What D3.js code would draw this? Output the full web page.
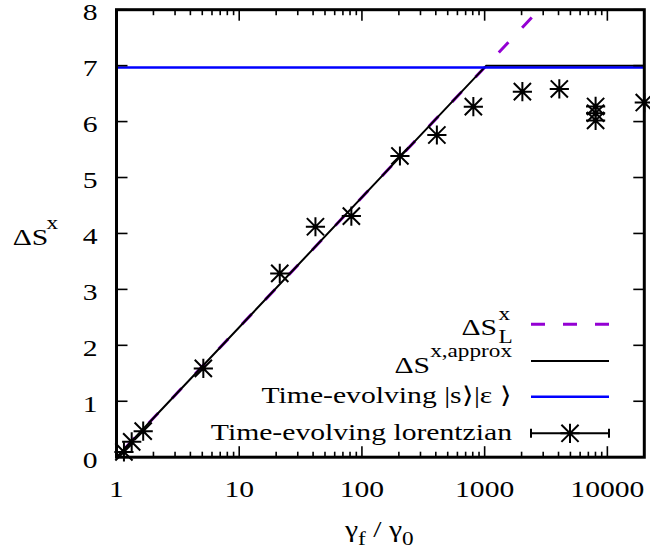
<!DOCTYPE html>
<html>
<head>
<meta charset="utf-8">
<script src="https://cdn.jsdelivr.net/npm/d3@7"></script>
<style>
  html, body { margin: 0; padding: 0; background: #fff; }
  svg { display: block; }
  text { font-family: "Liberation Serif", "Times New Roman", serif; fill: #000; }
</style>
</head>
<body>
<svg id="chart" width="650" height="554"></svg>
<script>
// ---- data ----
const xTickValues = [1, 10, 100, 1000, 10000];
const xTickLabels = ["1", "10", "100", "1000", "10000"];
const yTickValues = [0, 1, 2, 3, 4, 5, 6, 7, 8];
const yTickLabels = ["0", "1", "2", "3", "4", "5", "6", "7", "8"];

// ΔS_L^x (dashed purple)
const dsLX = [1, 2420];
const dsLY = [0, 7.86];
// ΔS^{x,approx} (black)
const approxX = [1, 1030, 20000];
const approxY = [0, 7.0, 7.0];
// Time-evolving |s>|ε> (blue)
const blueX = [1, 20000];
const blueY = [6.965, 6.965];
// Time-evolving lorentzian (asterisks)
const lorX = [1.15, 1.33, 1.65, 5.1, 21.4, 41.8, 82, 204, 408, 809, 2030, 4060, 8020, 8020, 8020, 20000];
const lorY = [0.095, 0.274, 0.466, 1.587, 3.286, 4.12, 4.31, 5.385, 5.76, 6.267, 6.535, 6.583, 6.27, 6.15, 6.02, 6.34];

// ---- layout ----
const svg = d3.select("#chart");
const L = 116.5, R = 644.3, T = 9.7, B = 457.2;
const x = d3.scaleLog().domain([1, 20000]).range([L, R]);
const y = d3.scaleLinear().domain([0, 8]).range([B, T]);
const FS = 23, SFS = 18, SX = 1.29;
const PURPLE = "#9400d3", BLUE = "#0000ff";

const defs = svg.append("defs");
defs.append("clipPath").attr("id", "clip")
  .append("rect").attr("x", L).attr("y", T).attr("width", R - L).attr("height", B - T);

const line = d3.line().x(d => x(d[0])).y(d => y(d[1]));
const plot = svg.append("g").attr("clip-path", "url(#clip)");

// purple dashed
const pPath = plot.append("path")
  .datum(dsLX.map((v, i) => [v, dsLY[i]]))
  .attr("d", line).attr("fill", "none")
  .attr("stroke", PURPLE).attr("stroke-width", 3)
  .attr("stroke-dasharray", "14,20");
{
  const len = pPath.node().getTotalLength();
  const period = 34;
  const off = ((14 - len) % period + period) % period;
  pPath.attr("stroke-dashoffset", off);
}
// black approx
plot.append("path")
  .datum(approxX.map((v, i) => [v, approxY[i]]))
  .attr("d", line).attr("fill", "none")
  .attr("stroke", "#000").attr("stroke-width", 2);
// blue
plot.append("path")
  .datum(blueX.map((v, i) => [v, blueY[i]]))
  .attr("d", line).attr("fill", "none")
  .attr("stroke", BLUE).attr("stroke-width", 2.5);

// ---- axes: ticks ----
const tickG = svg.append("g").attr("stroke", "#000").attr("stroke-width", 1.6);
const minorX = [];
for (let d = 1; d <= 10000; d *= 10) {
  for (let k = 2; k <= 9; k++) { const v = d * k; if (v < 20000) minorX.push(v); }
}
const MAJ = 11, MIN = 5.5;
xTickValues.forEach(v => {
  const px = x(v);
  tickG.append("line").attr("x1", px).attr("x2", px).attr("y1", B).attr("y2", B - MAJ);
  tickG.append("line").attr("x1", px).attr("x2", px).attr("y1", T).attr("y2", T + MAJ);
});
minorX.forEach(v => {
  const px = x(v);
  tickG.append("line").attr("x1", px).attr("x2", px).attr("y1", B).attr("y2", B - MIN);
  tickG.append("line").attr("x1", px).attr("x2", px).attr("y1", T).attr("y2", T + MIN);
});
yTickValues.forEach(v => {
  const py = y(v);
  tickG.append("line").attr("x1", L).attr("x2", L + MAJ).attr("y1", py).attr("y2", py);
  tickG.append("line").attr("x1", R).attr("x2", R - MAJ).attr("y1", py).attr("y2", py);
});

// border
svg.append("rect").attr("x", L).attr("y", T).attr("width", R - L).attr("height", B - T)
  .attr("fill", "none").attr("stroke", "#000").attr("stroke-width", 3);

// ---- markers ----
function star(g, cx, cy, s) {
  const d = 8.6;
  g.append("path")
    .attr("d", `M${cx - s},${cy}H${cx + s}M${cx},${cy - s}V${cy + s}` +
               `M${cx - d},${cy - d}L${cx + d},${cy + d}M${cx - d},${cy + d}L${cx + d},${cy - d}`)
    .attr("stroke", "#000").attr("stroke-width", 2).attr("fill", "none");
}
const mk = svg.append("g");
lorX.forEach((v, i) => star(mk, x(v), y(lorY[i]), 9.6));

// ---- text helper (horizontally stretched serif) ----
function txt(px, py, anchor, size) {
  return svg.append("text")
    .attr("transform", `translate(${px},${py}) scale(${SX},1)`)
    .attr("text-anchor", anchor)
    .style("font-size", size + "px");
}

// tick labels
xTickValues.forEach((v, i) => txt(x(v), 497, "middle", FS).text(xTickLabels[i]));
yTickValues.forEach((v, i) => txt(97.5, y(v) + 10.5, "end", FS).text(yTickLabels[i]));

// y label
txt(12.7, 245, "start", FS).text("ΔS");
txt(46.5, 229, "start", SFS).text("x");

// x label
{
  const t = txt(345, 537, "start", FS);
  t.append("tspan").text("γ");
  t.append("tspan").attr("dy", 8).style("font-size", SFS + "px").text("f");
  t.append("tspan").attr("dy", -8).text(" / γ");
  t.append("tspan").attr("dy", 8).style("font-size", SFS + "px").text("0");
}

// ---- legend ----
const LX0 = 531, LX1 = 609, TX = 512;
const rows = [324.3, 361, 396.7, 433.3];
// row 1 (stacked sub/superscript)
txt(497, rows[0] + 11, "end", FS).text("ΔS");
txt(498.5, rows[0] + 19, "start", SFS).text("L");
txt(498.5, rows[0] - 4, "start", SFS).text("x");
svg.append("line").attr("x1", LX0).attr("x2", LX1).attr("y1", rows[0]).attr("y2", rows[0])
  .attr("stroke", PURPLE).attr("stroke-width", 3).attr("stroke-dasharray", "14,18");
// row 2
{
  const t = txt(TX, rows[1] + 12, "end", FS);
  t.append("tspan").text("ΔS");
  t.append("tspan").attr("dy", -16).style("font-size", SFS + "px").text("x,approx");
}
svg.append("line").attr("x1", LX0).attr("x2", LX1).attr("y1", rows[1]).attr("y2", rows[1])
  .attr("stroke", "#000").attr("stroke-width", 2);
// row 3
txt(TX, rows[2] + 6.5, "end", FS).text("Time-evolving |s⟩|ε ⟩");
svg.append("line").attr("x1", LX0).attr("x2", LX1).attr("y1", rows[2]).attr("y2", rows[2])
  .attr("stroke", BLUE).attr("stroke-width", 2.5);
// row 4
txt(TX, rows[3] + 7, "end", FS).text("Time-evolving lorentzian");
{
  const g = svg.append("g").attr("stroke", "#000").attr("stroke-width", 2);
  g.append("line").attr("x1", LX0).attr("x2", LX1).attr("y1", rows[3]).attr("y2", rows[3]);
  g.append("line").attr("x1", LX0).attr("x2", LX0).attr("y1", rows[3] - 4.5).attr("y2", rows[3] + 4.5);
  g.append("line").attr("x1", LX1).attr("x2", LX1).attr("y1", rows[3] - 4.5).attr("y2", rows[3] + 4.5);
  star(svg, (LX0 + LX1) / 2, rows[3], 9.6);
}
</script>
</body>
</html>
